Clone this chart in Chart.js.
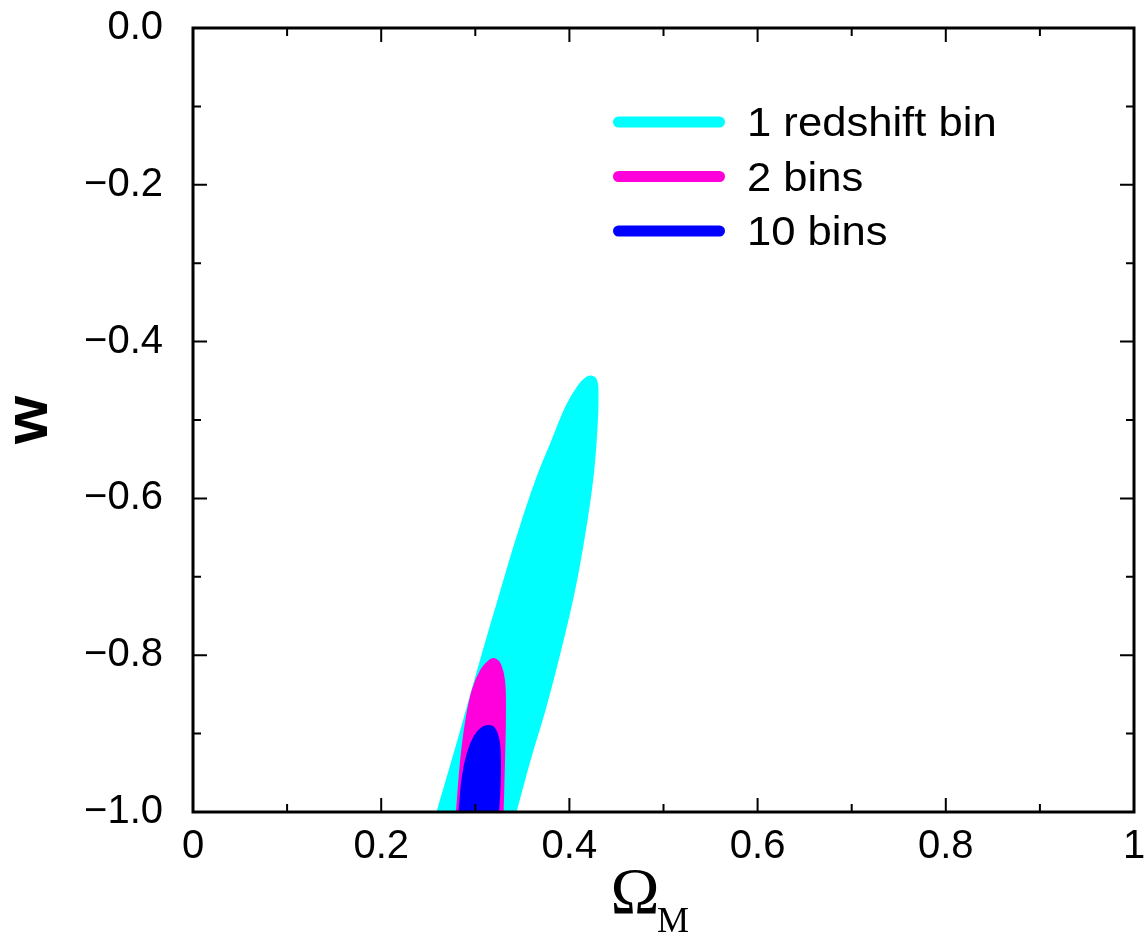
<!DOCTYPE html>
<html>
<head>
<meta charset="utf-8">
<script src="https://cdn.jsdelivr.net/npm/chart.js@4"></script>
<style>
  html, body { margin: 0; padding: 0; background: #fff; }
  canvas { display: block; }
</style>
</head>
<body>
<canvas id="contours" width="1146" height="937"></canvas>
<script>
// contour outlines in the (Omega_M, w) plane
const cyanOmega = [0.2604, 0.2827, 0.305, 0.3262, 0.3454, 0.3645, 0.3826, 0.3974, 0.4091, 0.4198, 0.4272, 0.4293, 0.4283, 0.424, 0.4155, 0.4038, 0.3889, 0.373, 0.3571, 0.3422];
const cyanW = [-1.0, -0.908, -0.813, -0.726, -0.649, -0.580, -0.526, -0.483, -0.459, -0.446, -0.448, -0.466, -0.509, -0.573, -0.644, -0.721, -0.797, -0.870, -0.934, -1.0];

const magentaOmega = [0.281, 0.2855, 0.291, 0.298, 0.307, 0.316, 0.321, 0.326, 0.330, 0.331, 0.330, 0.3285];
const magentaW = [-1.0, -0.934, -0.883, -0.844, -0.819, -0.807, -0.806, -0.8125, -0.832, -0.870, -0.934, -1.0];

const blueOmega = [0.2837, 0.2873, 0.2926, 0.2997, 0.3068, 0.3138, 0.319, 0.3234, 0.3255, 0.3255, 0.3238];
const blueW = [-1.0, -0.955, -0.925, -0.904, -0.894, -0.891, -0.893, -0.904, -0.925, -0.959, -1.0];

const seriesLabels = ['1 redshift bin', '2 bins', '10 bins'];
const seriesColors = ['#00ffff', '#ff00dc', '#0000ff'];

const xTickValues = [0, 0.2, 0.4, 0.6, 0.8, 1];
const xTickLabels = ['0', '0.2', '0.4', '0.6', '0.8', '1'];
const xMinorTicks = [0.1, 0.3, 0.5, 0.7, 0.9];
const yTickValues = [-1, -0.8, -0.6, -0.4, -0.2, 0];
const yTickLabels = ['\u22121.0', '\u22120.8', '\u22120.6', '\u22120.4', '\u22120.2', '0.0'];
const yMinorTicks = [-0.9, -0.7, -0.5, -0.3, -0.1];

const sans = "'Liberation Sans', Arial, sans-serif";
const serif = "'Liberation Serif', 'Times New Roman', serif";

const toPoints = (xs, ys) => xs.map((x, i) => ({ x, y: ys[i] }));

const contour = (label, xs, ys, color, order) => ({
  label,
  data: toPoints(xs, ys),
  borderColor: color,
  backgroundColor: color,
  borderWidth: 3,
  fill: 'shape',
  tension: 0.4,
  pointRadius: 0,
  order,
});

// box round the plot with inward ticks on all four sides
const frame = {
  id: 'frame',
  afterDatasetsDraw(chart) {
    const { ctx, chartArea: a, scales: { x, y } } = chart;
    ctx.save();
    ctx.strokeStyle = '#000';
    ctx.lineWidth = 2;
    ctx.beginPath();
    const xTick = (v, len) => {
      const px = x.getPixelForValue(v);
      ctx.moveTo(px, a.bottom); ctx.lineTo(px, a.bottom - len);
      ctx.moveTo(px, a.top); ctx.lineTo(px, a.top + len);
    };
    const yTick = (v, len) => {
      const py = y.getPixelForValue(v);
      ctx.moveTo(a.left, py); ctx.lineTo(a.left + len, py);
      ctx.moveTo(a.right, py); ctx.lineTo(a.right - len, py);
    };
    xTickValues.forEach(v => xTick(v, 14));
    xMinorTicks.forEach(v => xTick(v, 8));
    yTickValues.forEach(v => yTick(v, 14));
    yMinorTicks.forEach(v => yTick(v, 8));
    ctx.stroke();
    ctx.lineWidth = 3;
    ctx.strokeRect(a.left, a.top, a.width, a.height);
    ctx.restore();
  },
};

// legend inside the plot, top right
const insideLegend = {
  id: 'insideLegend',
  afterDraw(chart) {
    const { ctx, chartArea: a } = chart;
    ctx.save();
    ctx.lineCap = 'round';
    ctx.lineWidth = 11;
    ctx.font = '40px ' + sans;
    ctx.fillStyle = '#000';
    ctx.textBaseline = 'alphabetic';
    seriesLabels.forEach((label, i) => {
      const ly = a.top + 94 + i * 54.5;
      ctx.strokeStyle = seriesColors[i];
      ctx.beginPath();
      ctx.moveTo(a.left + 425.5, ly);
      ctx.lineTo(a.left + 526.5, ly);
      ctx.stroke();
      ctx.save();
      ctx.translate(a.left + 554, ly + 14);
      ctx.scale(1.09, 1);
      ctx.fillText(label, 0, 0);
      ctx.restore();
    });
    ctx.restore();
  },
};

// axis titles: w on the left, Omega_M below
const axisTitles = {
  id: 'axisTitles',
  afterDraw(chart) {
    const { ctx, chartArea: a } = chart;
    const midX = (a.left + a.right) / 2;
    const midY = (a.top + a.bottom) / 2;
    ctx.save();
    ctx.fillStyle = '#000';
    ctx.textBaseline = 'alphabetic';
    ctx.textAlign = 'left';
    ctx.font = '66px ' + serif;
    ctx.fillText('\u03A9', midX - 53, a.bottom + 101);
    ctx.font = '36px ' + serif;
    ctx.fillText('M', midX - 6.5, a.bottom + 120);
    ctx.translate(47, midY);
    ctx.rotate(-Math.PI / 2);
    ctx.textAlign = 'center';
    ctx.font = 'bold 62px ' + sans;
    ctx.fillText('w', 0, 0);
    ctx.restore();
  },
};

new Chart(document.getElementById('contours'), {
  type: 'line',
  data: {
    datasets: [
      contour(seriesLabels[0], cyanOmega, cyanW, seriesColors[0], 3),
      contour(seriesLabels[1], magentaOmega, magentaW, seriesColors[1], 2),
      contour(seriesLabels[2], blueOmega, blueW, seriesColors[2], 1),
    ],
  },
  options: {
    responsive: false,
    animation: false,
    layout: { padding: { top: 28, right: 12, left: 0, bottom: 0 } },
    plugins: {
      legend: { display: false },
      tooltip: { enabled: false },
    },
    scales: {
      x: {
        type: 'linear',
        min: 0,
        max: 1,
        grid: { display: false },
        border: { display: false },
        afterFit: s => { s.height = 125; s.paddingLeft = 0; s.paddingRight = 0; },
        afterBuildTicks: s => { s.ticks = xTickValues.map(value => ({ value })); },
        ticks: {
          callback: (v, i) => xTickLabels[i],
          font: { family: sans, size: 40 },
          color: '#000',
          padding: 3,
          maxRotation: 0,
          autoSkip: false,
        },
      },
      y: {
        type: 'linear',
        min: -1,
        max: 0,
        grid: { display: false },
        border: { display: false },
        afterFit: s => { s.width = 193; s.paddingTop = 0; s.paddingBottom = 0; },
        afterBuildTicks: s => { s.ticks = yTickValues.map(value => ({ value })); },
        ticks: {
          callback: (v, i) => yTickLabels[i],
          font: { family: sans, size: 40 },
          color: '#000',
          padding: 22,
          autoSkip: false,
        },
      },
    },
  },
  plugins: [frame, insideLegend, axisTitles],
});
</script>
</body>
</html>
